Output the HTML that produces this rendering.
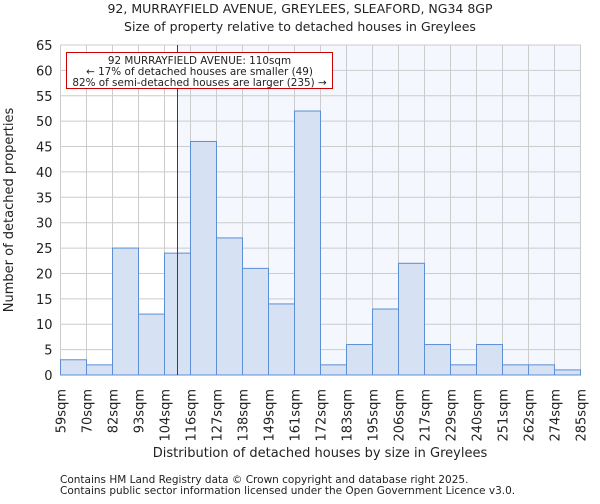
<!DOCTYPE html>
<html><head><meta charset="utf-8"><style>
body{margin:0;background:#fff;font-family:"DejaVu Sans","Liberation Sans",sans-serif;}
svg text{font-family:"DejaVu Sans","Liberation Sans",sans-serif;fill:#222}
</style></head><body>
<svg id="chart" width="600" height="500" xmlns="http://www.w3.org/2000/svg">
<text x="300" y="13" font-size="12.5" text-anchor="middle">92, MURRAYFIELD AVENUE, GREYLEES, SLEAFORD, NG34 8GP</text>
<text x="300" y="31" font-size="12.5" text-anchor="middle">Size of property relative to detached houses in Greylees</text>
<g id="plot"></g>
<text x="320" y="457" font-size="13" text-anchor="middle">Distribution of detached houses by size in Greylees</text>
<text transform="translate(13,210) rotate(-90)" font-size="13" text-anchor="middle">Number of detached properties</text>
<text x="60" y="483" font-size="10.5" fill="#444">Contains HM Land Registry data © Crown copyright and database right 2025.</text>
<text x="60" y="494" font-size="10.5" fill="#444">Contains public sector information licensed under the Open Government Licence v3.0.</text>
</svg>
<script>
const binLabels=["59sqm","70sqm","82sqm","93sqm","104sqm","116sqm","127sqm","138sqm","149sqm","161sqm","172sqm","183sqm","195sqm","206sqm","217sqm","229sqm","240sqm","251sqm","262sqm","274sqm","285sqm"];
const counts=[3,2,25,12,24,46,27,21,14,52,2,6,13,22,6,2,6,2,2,1];
const yTicks=[0,5,10,15,20,25,30,35,40,45,50,55,60,65];
const markerBin=4.5;
const NS="http://www.w3.org/2000/svg";
const L=60.5,R=580.5,T=45,B=375,yMax=65;
const n=counts.length;
const xs=i=>L+(R-L)*i/n;
const ys=v=>B-(B-T)*v/yMax;
const g=document.getElementById('plot');
function mk(t,a){const e=document.createElementNS(NS,t);for(const k in a)e.setAttribute(k,a[k]);g.appendChild(e);return e;}
const mx=xs(markerBin);
let e=mk('rect',{x:mx,y:T,width:R-mx,height:B-T,fill:'#f4f7fd'});


yTicks.forEach(v=>{
 let l=mk('line',{x1:L,x2:R,y1:ys(v),y2:ys(v),stroke:'#ccc','stroke-width':1});
 
 
 let t=mk('text',{x:L-8,y:ys(v)+5,'font-size':13,'text-anchor':'end'});t.textContent=v;
 
 
});
binLabels.forEach((s,i)=>{
 let l=mk('line',{x1:xs(i),x2:xs(i),y1:T,y2:B,stroke:'#ccc','stroke-width':1});
 
 
 let t=mk('text',{transform:`translate(${xs(i)+5},${B+14}) rotate(-90)`,'font-size':13,'text-anchor':'end'});t.textContent=s;
 
 
});
counts.forEach((c,i)=>{
 let r=mk('rect',{x:xs(i),y:ys(c),width:xs(i+1)-xs(i),height:B-ys(c),fill:'#d6e1f3',stroke:'#5b8fd6','stroke-width':1});
 
 
});
e=mk('line',{x1:mx,x2:mx,y1:T,y2:B,stroke:'#c00','stroke-width':1});


e=mk('rect',{x:66.5,y:52.5,width:266,height:36,fill:'#fff',stroke:'#c00','stroke-width':1});


["92 MURRAYFIELD AVENUE: 110sqm","← 17% of detached houses are smaller (49)","82% of semi-detached houses are larger (235) →"].forEach((s,i)=>{
 let t=mk('text',{x:199.5,y:64+i*11,'font-size':10.4,'text-anchor':'middle'});t.textContent=s;
 
 
});
</script>
</body></html>
